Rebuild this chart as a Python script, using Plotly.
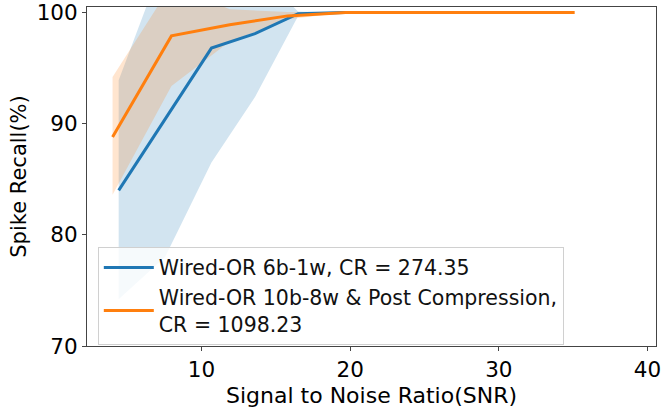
import plotly.graph_objects as go

# Data
blue_x = [4.43, 7.55, 10.67, 13.6, 16.5, 19.6, 22.7, 25.8, 28.9, 32.0, 35.0]
blue_y = [84.0, 90.4, 96.8, 98.1, 99.9, 100.0, 100.0, 100.0, 100.0, 100.0, 100.0]
blue_lo = [74.2, 78.0, 86.5, 92.4, 99.7, 100.0, 100.0, 100.0, 100.0, 100.0, 100.0]
blue_hi = [93.9, 105.0, 107.1, 103.8, 100.1, 100.0, 100.0, 100.0, 100.0, 100.0, 100.0]

orange_x = [4.02, 7.98, 11.9, 15.8, 19.7, 23.6, 27.4, 31.3, 35.1]
orange_y = [88.8, 97.9, 98.9, 99.7, 100.0, 100.0, 100.0, 100.0, 100.0]
orange_lo = [83.6, 93.4, 97.4, 99.4, 100.0, 100.0, 100.0, 100.0, 100.0]
orange_hi = [94.2, 102.5, 100.3, 100.05, 100.0, 100.0, 100.0, 100.0, 100.0]

names = ["Wired-OR 6b-1w, CR = 274.35",
         "Wired-OR 10b-8w & Post Compression,<br>CR = 1098.23"]
x_ticks = [10, 20, 30, 40]
y_ticks = [70, 80, 90, 100]
x_title = "Signal to Noise Ratio(SNR)"
y_title = "Spike Recall(%)"

BLUE = "#1f77b4"
ORANGE = "#ff7f0e"
FONT = "DejaVu Sans"

fig = go.Figure()

def band(x, lo, hi, color):
    fig.add_trace(go.Scatter(x=x + x[::-1], y=hi + lo[::-1], fill="toself",
                             fillcolor=color, line=dict(width=0),
                             mode="lines", showlegend=False, hoverinfo="skip"))

band(blue_x, blue_lo, blue_hi, "rgba(31,119,180,0.2)")
band(orange_x, orange_lo, orange_hi, "rgba(255,127,14,0.2)")

fig.add_trace(go.Scatter(x=blue_x, y=blue_y, mode="lines", name=names[0],
                         line=dict(color=BLUE, width=3)))
fig.add_trace(go.Scatter(x=orange_x, y=orange_y, mode="lines", name=names[1],
                         line=dict(color=ORANGE, width=3)))

axis_common = dict(showgrid=False, zeroline=False, showline=True, mirror=True,
                   linecolor="#444", linewidth=1, ticks="outside", ticklen=4,
                   tickcolor="#444", automargin=False,
                   tickfont=dict(family=FONT, size=21.5, color="black"))

fig.update_xaxes(range=[2.3, 40.57], tickvals=x_ticks, **axis_common)
fig.update_yaxes(range=[70, 100.5], tickvals=y_ticks,
                 title=dict(text=y_title, font=dict(family=FONT, size=21, color="black"),
                            standoff=4),
                 **axis_common)

fig.add_annotation(text=x_title, xref="paper", yref="paper", x=0.5, y=-0.1032,
                   xanchor="center", yanchor="top", showarrow=False,
                   font=dict(family=FONT, size=22, color="black"))

fig.update_layout(
    width=663, height=409,
    margin=dict(l=87, r=7, t=7, b=63),
    plot_bgcolor="white", paper_bgcolor="white",
    font=dict(family=FONT, color="black"),
    legend=dict(x=0.019, y=0.293, xanchor="left", yanchor="top",
                bgcolor="rgba(255,255,255,0.8)", bordercolor="#d0d0d0", borderwidth=1,
                itemwidth=50, tracegroupgap=0,
                font=dict(family=FONT, size=20.5, color="#111")),
)

fig.write_html("out.html")
